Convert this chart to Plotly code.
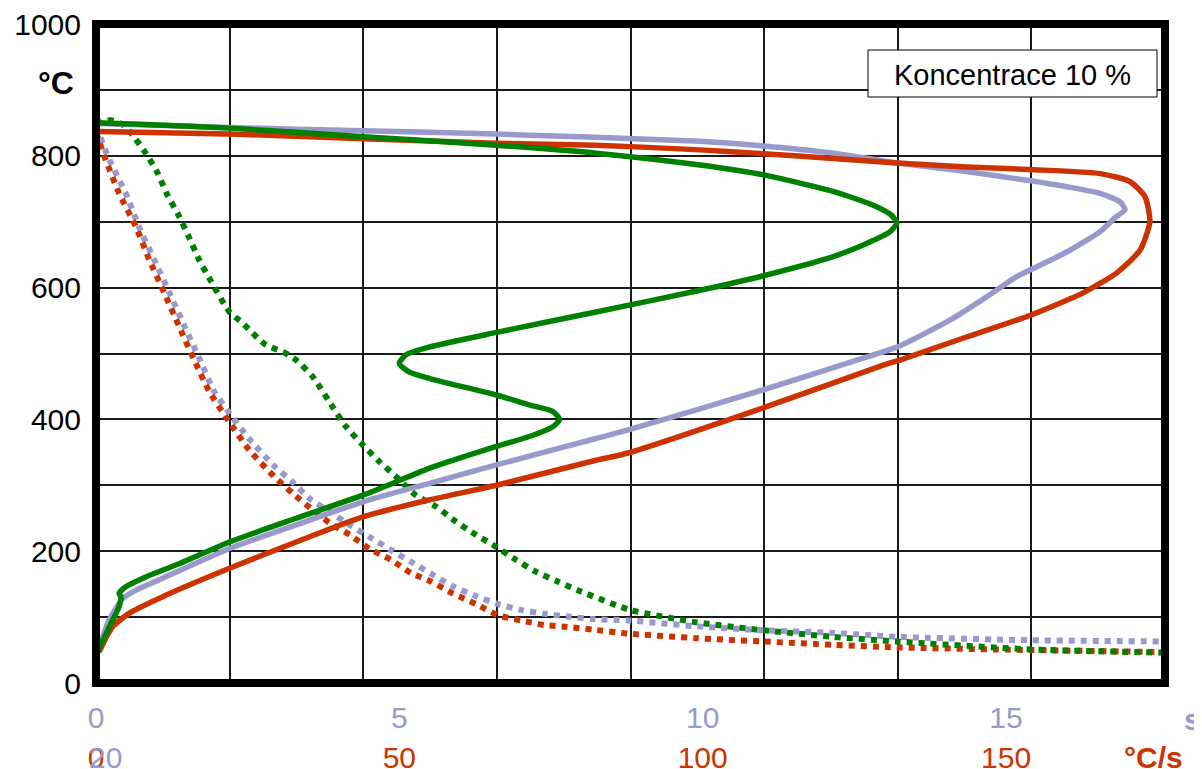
import plotly.graph_objects as go

# ---------------- data ----------------
time_ticks = [0, 5, 10, 15]
rate_ticks = [0, 50, 100, 150]
temp_ticks = [0, 200, 400, 600, 800, 1000]

# solid curves: cooling rate (°C/s) vs temperature (°C)
red_rate = [0.5, 2.7, 5.5, 11, 22, 33, 44, 55, 66, 82.4, 87.7, 108.9, 130, 132.5, 143.5, 154, 162.7,
            168.2, 172.1, 173.7, 172.9, 170.4, 165.5, 154.5, 143.5, 132, 121.5, 110, 99.6, 82.4, 66,
            44, 22, 0.3]
red_temp = [47, 85, 106, 131, 174, 214, 252, 278, 300, 338, 349, 414, 483, 490, 525, 558, 592,
            622, 657, 700, 738, 761, 773, 779, 783, 789, 796, 803, 809, 816, 819,
            826, 833, 837]

lav_rate = [0.3, 2.2, 4.4, 6.6, 11, 22, 33, 44, 55, 66, 82.4, 87.7, 110, 125.4, 132.1, 140.8, 146.8,
            151.8, 154, 160, 165.5, 168.2, 169.6, 168.8, 165.5, 160, 154.1, 143.5, 132.1, 121.5, 110,
            99.6, 82.4, 66, 44, 22, 0.3]
lav_temp = [50, 96, 128, 141, 159, 204, 240, 275, 303, 331, 371, 384, 445, 490, 510, 551, 586,
            617, 627, 654, 685, 708, 718, 730, 743, 753, 762, 776, 789, 804, 815,
            822, 828, 833, 838, 843, 849]

grn_rate = [0.3, 2.2, 3.8, 4.1, 3.8, 4.9, 8.2, 13.7, 22, 33, 44, 49.4, 55, 66, 71.4, 75.3, 76.4,
            75.3, 71.4, 66, 55, 51.6, 50, 51.1, 55, 66, 82.4, 99.6, 110, 121.5, 127, 130.9, 132,
            131.1, 128.1, 121.5, 110, 99.6, 82.4, 66, 44, 22, 0.3]
grn_temp = [49, 85, 116, 131, 136, 146, 161, 181, 214, 250, 285, 305, 326, 359, 374, 389, 400,
            412, 422, 437, 462, 472, 485, 498, 510, 532, 563, 596, 618, 647, 667, 685, 698,
            710, 725, 746, 771, 786, 804, 816, 829, 842, 850]

# dotted curves: temperature (°C) vs time (s)
red_t = [0, 0.16, 0.38, 0.66, 0.88, 1.13, 1.37, 1.62, 1.87, 2.19, 2.53, 2.94, 3.24, 3.54, 3.85,
         4.18, 4.5, 4.86, 5.19, 5.52, 5.88, 6.26, 6.62, 7.0, 7.39, 7.77, 8.19, 8.77, 9.9, 11.0,
         12.15, 13.2, 15.4, 17.6]
red_T = [836, 794, 743, 692, 642, 591, 541, 490, 442, 397, 353, 313, 288, 265, 243,
         225, 204, 187, 167, 154, 136, 120, 103, 95, 88, 85, 81, 75, 68, 63,
         58, 54, 50, 47]

lav_t = [0, 0.22, 0.49, 0.71, 0.96, 1.21, 1.46, 1.7, 1.95, 2.17, 2.53, 2.94, 3.24, 3.52, 3.85,
         4.18, 4.5, 4.86, 5.19, 5.52, 5.88, 6.26, 6.62, 7.0, 7.39, 7.77, 8.19, 8.77, 9.9, 11.0,
         12.15, 13.2, 15.4, 17.6]
lav_T = [845, 794, 743, 692, 642, 592, 541, 493, 442, 413, 370, 329, 305, 280, 260,
         240, 222, 202, 184, 166, 147, 132, 120, 111, 105, 101, 97, 95, 86, 80,
         76, 70, 65, 63]

grn_t = [0, 0.25, 0.44, 0.58, 0.82, 1.02, 1.18, 1.37, 1.54, 1.7, 1.9, 2.2, 2.42, 2.77, 3.13, 3.3,
         3.57, 3.9, 4.12, 4.4, 4.67, 4.97, 5.27, 5.6, 5.93, 6.26, 6.59, 6.92, 7.25, 7.61, 7.99,
         8.8, 9.9, 11.0, 12.15, 13.2, 15.4, 17.6]
grn_T = [849, 854, 847, 834, 804, 773, 740, 708, 675, 642, 609, 563, 546, 515, 500, 490,
         465, 419, 389, 361, 336, 311, 285, 268, 245, 225, 207, 187, 169, 154, 139,
         111, 92, 80, 70, 63, 51, 46]

# ---------------- style ----------------
RED = "#CC3300"
LAV = "#9999CC"
GRN = "#008000"
FONT = "Liberation Sans, Arial, sans-serif"

fig = go.Figure()

# solid (rate axis)
for xs, ys, c in [(lav_rate, lav_temp, LAV), (red_rate, red_temp, RED), (grn_rate, grn_temp, GRN)]:
    fig.add_trace(go.Scatter(x=xs, y=ys, xaxis="x2", yaxis="y", mode="lines",
                             line=dict(color=c, width=5.5, shape="spline", smoothing=0.6),
                             hoverinfo="skip", showlegend=False))
# dotted (time axis)
for xs, ys, c in [(lav_t, lav_T, LAV), (red_t, red_T, RED), (grn_t, grn_T, GRN)]:
    fig.add_trace(go.Scatter(x=xs, y=ys, xaxis="x", yaxis="y", mode="lines",
                             line=dict(color=c, width=6, dash="6px,6px", shape="spline", smoothing=0.6),
                             hoverinfo="skip", showlegend=False))

# dummy trace so grid axis is active
fig.add_trace(go.Scatter(x=[0, 8], y=[None, None], xaxis="x3", yaxis="y", mode="lines",
                         showlegend=False, hoverinfo="skip"))

GRID = "#1a1a1a"
# the page body adds an 8px offset, so margins are shifted by -8 (left/top)
fig.update_layout(
    width=1202, height=769,
    margin=dict(l=88, r=45, t=16, b=94),
    paper_bgcolor="white", plot_bgcolor="white",
    showlegend=False, hovermode=False,
    font=dict(family=FONT, size=30, color="black"),
    xaxis=dict(range=[0, 17.62], tickvals=time_ticks, ticktext=[str(v) for v in time_ticks],
               showgrid=False, zeroline=False, showline=False, ticks="", automargin=False,
               ticklabeloverflow="allow",
               tickfont=dict(family=FONT, size=30, color=LAV), ticklabelstandoff=14),
    xaxis2=dict(range=[0, 176.2], overlaying="x", side="bottom", anchor="y", automargin=False,
                tickvals=rate_ticks, ticktext=[str(v) for v in rate_ticks],
                showgrid=False, zeroline=False, showline=False, ticks="",
                ticklabeloverflow="allow",
                tickfont=dict(family=FONT, size=30, color=RED), ticklabelstandoff=54),
    xaxis3=dict(range=[0, 8], overlaying="x", side="top", anchor="y", dtick=1, automargin=False,
                showgrid=True, gridcolor=GRID, gridwidth=1.5, showticklabels=False,
                zeroline=False, showline=False, ticks=""),
    yaxis=dict(range=[0, 1000], tickvals=temp_ticks, ticktext=[str(v) for v in temp_ticks],
               showgrid=True, gridcolor=GRID, gridwidth=1.5, zeroline=False, automargin=False,
               showline=False, ticks="", ticklabelstandoff=14, ticklabeloverflow="allow",
               minor=dict(dtick=100, showgrid=True, gridcolor=GRID, gridwidth=1.5),
               tickfont=dict(family=FONT, size=30, color="black")),
)

# thick frame
fig.add_shape(type="rect", xref="paper", yref="paper", x0=0, x1=1, y0=0, y1=1,
              line=dict(color="black", width=8), layer="above")

# concentration box
W, H = 1069.0, 659.0
fig.add_shape(type="rect", xref="paper", yref="paper",
              x0=(868 - 96) / W, x1=(1157 - 96) / W, y0=(683 - 97) / H, y1=(683 - 50) / H,
              line=dict(color="black", width=1), fillcolor="white", layer="above")
fig.add_annotation(xref="paper", yref="paper", x=(1012 - 96) / W, y=(683 - 75) / H,
                   text="Koncentrace 10 %", showarrow=False, xanchor="center", yanchor="middle",
                   font=dict(family=FONT, size=29, color="black"))

# unit labels
fig.add_annotation(xref="paper", yref="paper", x=(56 - 96) / W, y=(683 - 83) / H,
                   text="°C", showarrow=False, xanchor="center", yanchor="middle",
                   font=dict(family=FONT, size=32, color="black", weight="bold"))
fig.add_annotation(xref="paper", yref="paper", x=(1192 - 96) / W, y=(683 - 719) / H,
                   text="s", showarrow=False, xanchor="center", yanchor="middle",
                   font=dict(family=FONT, size=30, color=LAV, weight="bold"))
fig.add_annotation(xref="paper", yref="paper", x=(1153 - 96) / W, y=(683 - 757) / H,
                   text="°C/s", showarrow=False, xanchor="center", yanchor="middle",
                   font=dict(family=FONT, size=30, color=RED, weight="bold"))
fig.add_annotation(xref="paper", yref="paper", x=(105 - 96) / W, y=(683 - 757) / H,
                   text="20", showarrow=False, xanchor="center", yanchor="middle",
                   font=dict(family=FONT, size=30, color=LAV))

fig.write_html("out.html")
